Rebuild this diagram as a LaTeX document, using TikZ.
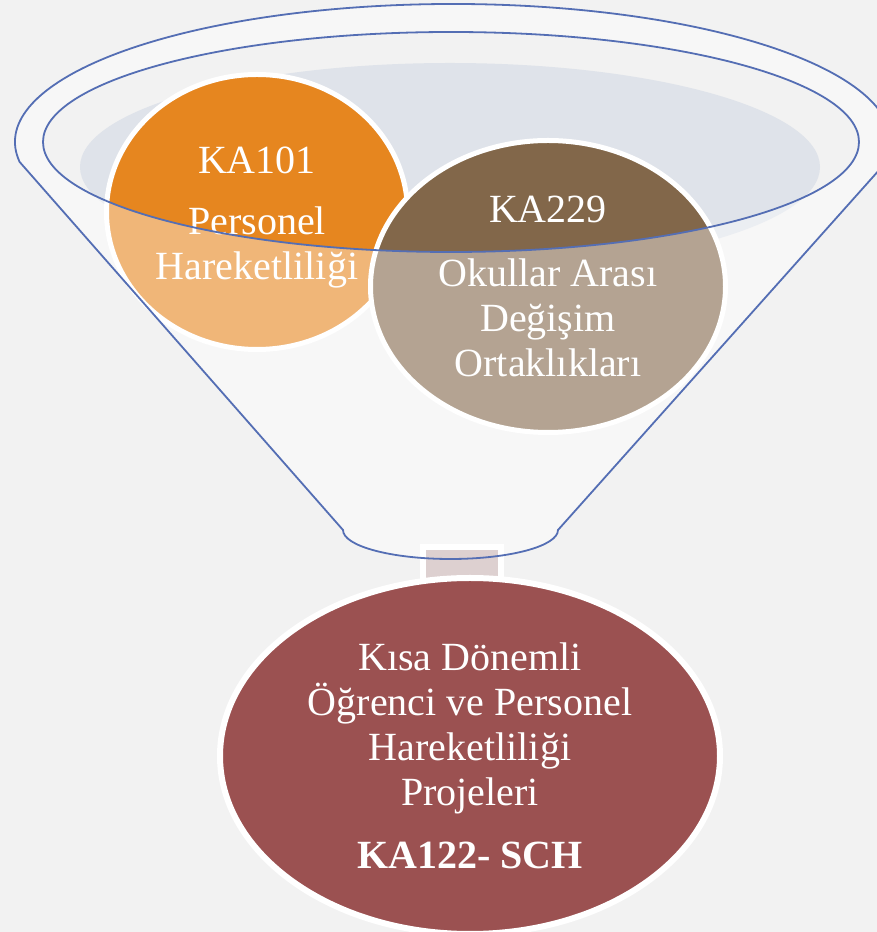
\documentclass[tikz,border=0pt]{standalone}
\usepackage{fontspec}
\setmainfont{Liberation Serif}
\usetikzlibrary{shapes.geometric}
\definecolor{paper}{HTML}{F2F2F2}
\definecolor{liquid}{HTML}{DFE3EA}
\definecolor{funnelblue}{RGB}{84,110,180}
\definecolor{kaorange}{HTML}{E6861F}
\definecolor{kabrown}{HTML}{82674A}
\definecolor{kared}{HTML}{9B5151}
\definecolor{neckfill}{HTML}{DDD0D0}
\tikzstyle{bubble} = [ellipse, draw=white, line width=5pt, text=white, align=center, inner sep=0pt, font=\fontsize{40}{45}\selectfont]
\tikzstyle{rim} = [draw=funnelblue, line width=1.8pt]
\tikzstyle{glass} = [fill=white, opacity=0.4, even odd rule]

\begin{document}
\begin{tikzpicture}[x=1pt,y=1pt]
        %page
        \useasboundingbox (0,0) rectangle (877,932);
        \clip (0,0) rectangle (877,932);
        \fill[paper] (0,0) rectangle (877,932);
        %funnel corners
        \coordinate (lefttop) at (19.6,770.1);
        \coordinate (botright) at (558,402);
        %liquid inside the funnel
        \fill[liquid] (450,765) ellipse [x radius=370, y radius=104];
        %programmes in the funnel
        \node (KA101) [bubble, fill=kaorange, minimum width=301pt, minimum height=275pt] at (257,720) {\rule{0pt}{37pt}KA101\\[16pt]Personel\\Hareketliliği};
        \node (KA229) [bubble, fill=kabrown, minimum width=355pt, minimum height=292pt] at (548,645.5) {KA229\\[19pt]Okullar Arası\\Değişim\\Ortaklıkları};
        %front of the funnel, seen through
        \path[glass] (lefttop) arc [start angle=188.3, end angle=-8.3, x radius=438, y radius=138] -- (botright) arc [start angle=0, end angle=-180, x radius=107.5, y radius=29] -- cycle (451,790) ellipse [x radius=408, y radius=110];
        %neck and result
        \node (neck) [draw=white, line width=6pt, fill=neckfill, minimum width=78pt, minimum height=50pt, inner sep=0pt] at (462,360) {};
        \node (KA122) [bubble, fill=kared, line width=6pt, minimum width=500pt, minimum height=356pt] at (470,176) {Kısa Dönemli\\Öğrenci ve Personel\\Hareketliliği\\Projeleri\\[18pt]\textbf{KA122- SCH}};
        %funnel outline
        \draw[rim] (lefttop) arc [start angle=188.3, end angle=-8.3, x radius=438, y radius=138] -- (botright) arc [start angle=0, end angle=-180, x radius=107.5, y radius=29] -- cycle;
        \draw[rim] (451,790) ellipse [x radius=408, y radius=110];
    \end{tikzpicture}
\end{document}
